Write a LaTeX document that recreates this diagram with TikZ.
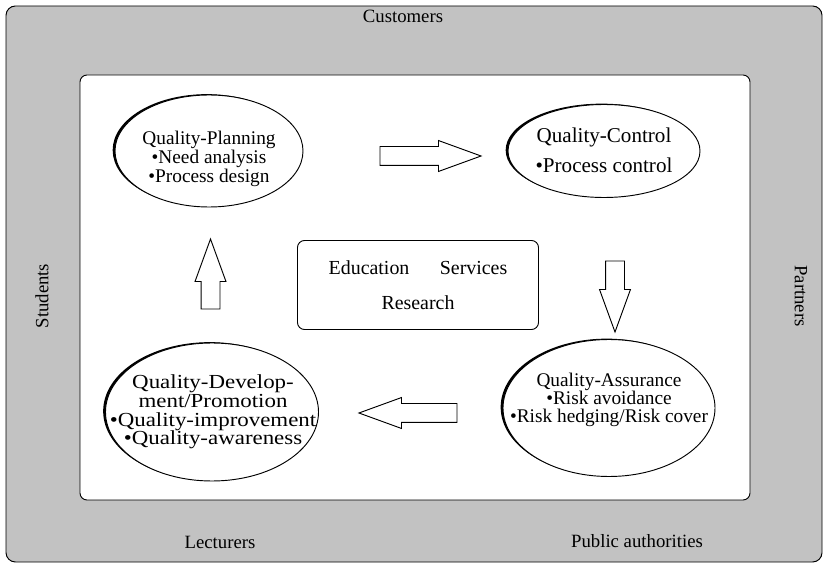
\documentclass[tikz,border=0pt]{standalone}
\usepackage{fontspec}
\setmainfont{Liberation Serif}
\newfontfamily\widefont[FakeStretch=1.15]{Liberation Serif}
\usepackage{tikz}
\usetikzlibrary{
  shapes.geometric,
  shapes.arrows,
  shadows,
  positioning
}

\begin{document}
\begin{tikzpicture}[
  x=0.03cm, y=-0.03cm,
  phase/.style={ellipse, draw, fill=white, line width=0.8pt, inner sep=0pt, drop shadow={shadow xshift=-0.07cm, shadow yshift=0.025cm, fill=black, opacity=1}},
  phasetext/.style={align=center, inner sep=0pt, font=\fontsize{16.5}{15}\selectfont},
  core/.style={rectangle, draw, fill=white, rounded corners=6pt, line width=0.8pt, minimum width=7.23cm, minimum height=2.67cm, align=center, font=\fontsize{17}{17}\selectfont},
  blockarr/.style={single arrow, draw, fill=white, line width=0.8pt, inner sep=0pt, inner ysep=0.27cm, single arrow head extend=0.18cm, single arrow tip angle=40},
  side/.style={font=\fontsize{16}{16}\selectfont}
]
  \useasboundingbox (0,0) rectangle (827,567);
  \draw[fill=black!24, line width=0.8pt, rounded corners=8pt] (6,6) rectangle (822,562);
  \draw[fill=white, line width=0.8pt, rounded corners=6pt] (80,75) rectangle (750,500);

  \node[side] (customers) at (403,16) {Customers};
  \node[side] (lecturers) at (220,542) {Lecturers};
  \node[side] (public) at (637,541) {Public authorities};
  \node[side, rotate=90] (students) at (42,296) {Students};
  \node[side, rotate=-90] (partners) at (801,296) {Partners};

  \node[phase, minimum width=5.64cm, minimum height=3.36cm] (planning) at (209,151) {};
  \node[phase, minimum width=5.76cm, minimum height=2.79cm] (control) at (604,151) {};
  \node[phase, minimum width=6.36cm, minimum height=4.11cm] (assurance) at (609,408) {};
  \node[phase, minimum width=6.39cm, minimum height=4.14cm] (development) at (212,412) {};

  \node[phasetext] (planningtext) at (209,159) {Quality-Planning\\\textbullet Need analysis\\\textbullet Process design};
  \node[phasetext, font=\fontsize{18}{18}\selectfont] (controltext) at (604,150) {Quality-Control\\[7.5pt]\textbullet Process control};
  \node[phasetext, font=\fontsize{16.5}{15.5}\selectfont] (assurancetext) at (609,400) {Quality-Assurance\\\textbullet Risk avoidance\\\textbullet Risk hedging/Risk cover};
  \node[phasetext, font=\widefont\fontsize{17}{16}\selectfont] (developmenttext) at (213,412) {Quality-Develop-\\ment/Promotion\\\textbullet Quality-improvement\\\textbullet Quality-awareness};

  \node[core] (core) at (418,285) {Education\quad\; Services\\[13pt]Research};

  \node[blockarr, minimum height=3.03cm, minimum width=0.9cm] (plan2ctrl) at (417.5,156) {};
  \node[blockarr, minimum height=2.13cm, minimum width=0.9cm, rotate=-90] (ctrl2assu) at (615,283.5) {};
  \node[blockarr, minimum height=2.94cm, minimum width=0.9cm, rotate=180] (assu2dev) at (421,413) {};
  \node[blockarr, minimum height=2.1cm, minimum width=0.9cm, rotate=90] (dev2plan) at (210.5,287) {};
\end{tikzpicture}
\end{document}
